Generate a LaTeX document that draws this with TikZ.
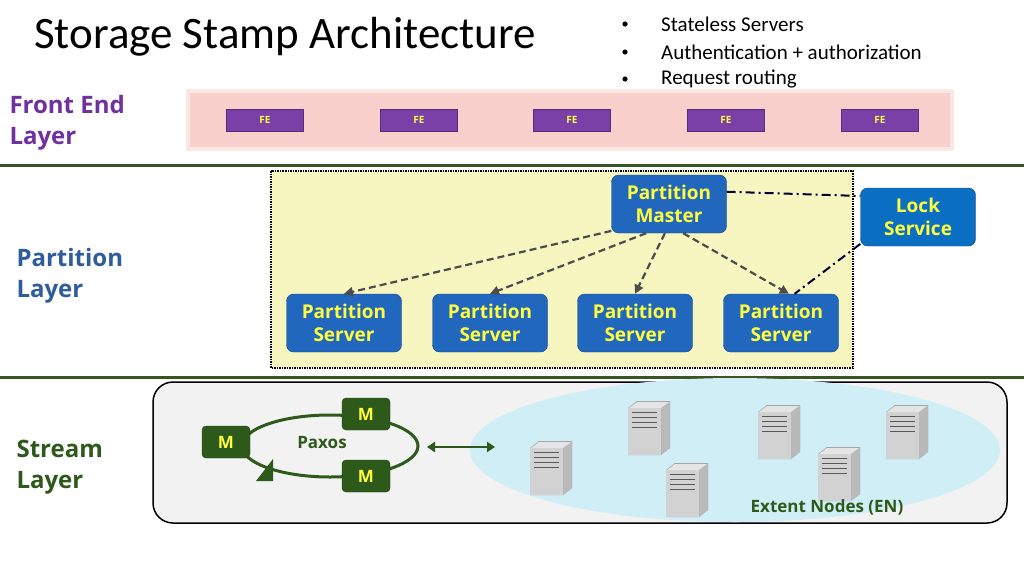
\documentclass[tikz,border=0pt]{standalone}
\usepackage{fontspec}
\setmainfont{Open Sans}
\newfontfamily\carl{Carlito}
\usetikzlibrary{arrows.meta,shapes.geometric}
\definecolor{fepurple}{HTML}{7B3FA8}
\definecolor{lblpurple}{HTML}{7030A0}
\definecolor{lblblue}{HTML}{2E5D9A}
\definecolor{dgreen}{HTML}{2D5A1B}
\definecolor{lgreen}{HTML}{375623}
\definecolor{pyel}{HTML}{F7F5C0}
\definecolor{bblue}{HTML}{2167BE}
\definecolor{lsblue}{HTML}{0A6FC2}
\definecolor{tyel}{HTML}{FFFF3F}
\definecolor{cyanl}{HTML}{D0EEF5}
\definecolor{fepink}{HTML}{F8CFCB}
\tikzset{
 px/.style={x=1pt,y=-1pt},
 fe/.style={draw=fepurple!70!black,fill=fepurple,minimum width=77pt,minimum height=22pt,inner sep=0pt,text=tyel,font=\bfseries\fontsize{10}{10}\selectfont},
 pbox/.style={draw=bblue!70!black,fill=bblue,rounded corners=7pt,minimum width=115pt,minimum height=58pt,inner sep=0pt,text=tyel,align=center,font=\bfseries\fontsize{19}{23}\selectfont},
 mbox/.style={draw=dgreen!70!black,fill=dgreen,rounded corners=4pt,minimum width=48pt,minimum height=32pt,inner sep=0pt,text=tyel,font=\bfseries\fontsize{17}{17}\selectfont},
 layer/.style={anchor=north west,align=left,font=\bfseries\fontsize{24}{31}\selectfont},
 darr/.style={dash pattern=on 7pt off 4pt,gray!60!black,line width=2.2pt,-{Triangle[length=9pt,width=9pt]}},
 dd/.style={dash pattern=on 9pt off 4pt on 2pt off 4pt,line width=2pt,black!60!blue!50!black},
 srv/.pic={\fill[gray!70] (-20,-20) -- (-11,-27) -- (22,-27) -- (22,20) -- (13,27) -- (-20,27) -- cycle;
   \fill[gray!35] (-20,-20) rectangle (13,27);
   \fill[gray!55] (13,-20) -- (22,-27) -- (22,20) -- (13,27) -- cycle;
   \foreach \yy in {-16,-11,-6,-1} \draw[gray!70!black] (-16,\yy) -- (9,\yy);
   \fill[gray!20] (-19,-20) -- (-11,-26) -- (21,-26) -- (13,-20) -- cycle;}
}
\begin{document}
\begin{tikzpicture}[px]
\useasboundingbox (0,0) rectangle (1024,576);
\fill[white] (0,0) rectangle (1024,576);
\node[anchor=west,font=\carl\fontsize{45}{45}\selectfont,inner sep=0pt] (title) at (34,37) {Storage Stamp Architecture};
\foreach \t/\yy [count=\i] in {Stateless Servers/24,Authentication + authorization/52,Request routing/79}{
  \node[font=\carl\fontsize{21}{21}\selectfont,anchor=west,inner sep=0pt] (b\i) at (661,\yy) {\t};
  \fill (625,\yy) circle (2.6pt);}
% front end
\fill[fepink,opacity=0.5] (186,89) rectangle (954,151);
\fill[fepink] (190,93) rectangle (950,147);
\foreach \x [count=\i] in {265,419,572,726,880} \node[fe] (fe\i) at (\x,120) {FE};
\node[layer,text=lblpurple] (fel) at (6,92) {Front End\\Layer};
\draw[lgreen,line width=3pt] (0,165) -- (1024,165);
\draw[lgreen,line width=3pt] (0,377) -- (1024,377);
% partition
\draw[densely dotted,line width=1.5pt,fill=pyel] (271,171) rectangle (853,368);
\node[layer,text=lblblue] (pl) at (13,245) {Partition\\Layer};
\node[pbox] (pm) at (669,204) {Partition\\Master};
\node[pbox,fill=lsblue] (ls) at (918,217) {Lock\\Service};
\foreach \x [count=\i] in {344,490,635,781} \node[pbox] (ps\i) at (\x,323) {Partition\\Server};
\draw[darr] (pm.205) -- (ps1.north);
\draw[darr] (pm.232) -- (ps2.north);
\draw[darr] (pm.262) -- (ps3.north);
\draw[darr] (pm.296) -- (ps4.75);
\draw[dd] (pm.12) -- (ls.160);
\draw[dd] (ls.205) -- (ps4.65);
% stream
\draw[line width=1.5pt,fill=gray!10,rounded corners=20pt] (153,382) rectangle (1007,523);
\fill[cyanl] (735,450) ellipse [x radius=265,y radius=72];
\node[layer,text=dgreen] (sl) at (13,437) {Stream\\Layer};
\coordinate (lc) at (330,446);
\draw[dgreen,line width=3pt] (lc) ellipse [x radius=88,y radius=31];
\fill[dgreen] (256,481) -- (273,481) -- (273,459) -- cycle;
\node[mbox] (m1) at (226,442) {M};
\node[mbox] (m2) at (366,414) {M};
\node[mbox] (m3) at (366,476) {M};
\node[text=dgreen,font=\bfseries\fontsize{17}{17}\selectfont] (px) at (322,443) {Paxos};
\coordinate (da) at (427,447);
\coordinate (db) at (495,447);
\draw[dgreen,line width=2.5pt,{Triangle[length=8pt,width=10pt]}-{Triangle[length=8pt,width=10pt]}] (da) -- (db);
\foreach \x/\yy in {550/468,648/428,686/490,778/432,838/474,906/432} \pic at (\x,\yy) {srv};
\node[text=dgreen,font=\bfseries\fontsize{17}{17}\selectfont] (en) at (827,507) {Extent Nodes (EN)};
\end{tikzpicture}
\end{document}
